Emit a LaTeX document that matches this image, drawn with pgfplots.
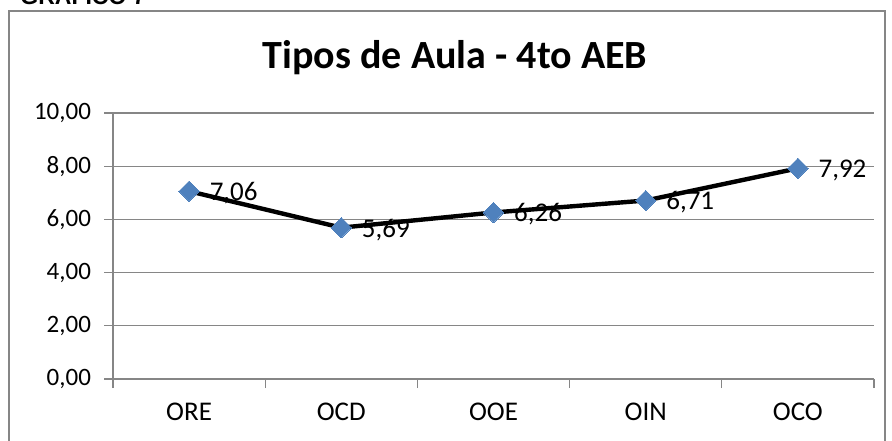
\documentclass[border=0pt]{standalone}
\usepackage{pgfplots}
\pgfplotsset{compat=1.18}
\usepackage{fontspec}
\setmainfont{Carlito}
\newfontfamily\arialfont{Liberation Sans}
\definecolor{excelblue}{HTML}{4F81BD}
\definecolor{gridgray}{HTML}{868686}
\begin{document}
\begin{tikzpicture}
\useasboundingbox (0,0) rectangle (446pt,220pt);
\clip (0,0) rectangle (446pt,220pt);
\node[anchor=base west, inner sep=0pt, font=\arialfont\bfseries\fontsize{11.5}{13}\selectfont] at (10pt,217.5pt) {GRÁFICO 7};
\draw[gridgray, line width=1pt] (4.5pt,-10pt) rectangle (442.5pt,214.5pt);
\node[font=\bfseries\fontsize{20}{24}\selectfont, inner sep=0pt] at (227.5pt,191pt) {Tipos de Aula - 4to AEB};
\begin{axis}[
  at={(56.5pt,30.5pt)}, anchor=south west,
  scale only axis, width=380.5pt, height=133pt,
  xmin=-0.5, xmax=4.5, ymin=0, ymax=10,
  axis x line*=bottom, axis y line*=left,
  axis line style={gridgray, line width=0.6pt, -},
  xtick={-0.5,0.5,1.5,2.5,3.5,4.5},
  x tick label as interval,
  xticklabels={ORE,OCD,OOE,OIN,OCO},
  ytick={0,2,4,6,8,10},
  yticklabels={{0,00},{2,00},{4,00},{6,00},{8,00},{10,00}},
  tick align=outside,
  major tick length=4.5pt,
  tick style={gridgray, line width=0.6pt},
  ymajorgrids,
  grid style={gridgray, line width=0.6pt},
  xticklabel style={yshift=-4pt, font=\fontsize{13.5}{16}\selectfont},
  yticklabel style={xshift=-3pt, font=\fontsize{12.5}{15}\selectfont},
  clip=false,
  nodes near coords,
  point meta=explicit symbolic,
  every node near coord/.append style={anchor=west, xshift=7pt, yshift=-1pt, font=\fontsize{13.5}{16}\selectfont, text=black},
]
\addplot[black, line width=2.2pt, mark=square*, mark size=3.6pt,
  mark options={fill=excelblue, draw=excelblue, line width=0pt, rotate=45}]
  table[meta=label] {
x y label
0 7.06 {7,06}
1 5.69 {5,69}
2 6.26 {6,26}
3 6.71 {6,71}
4 7.92 {7,92}
};
\end{axis}
\end{tikzpicture}
\end{document}
